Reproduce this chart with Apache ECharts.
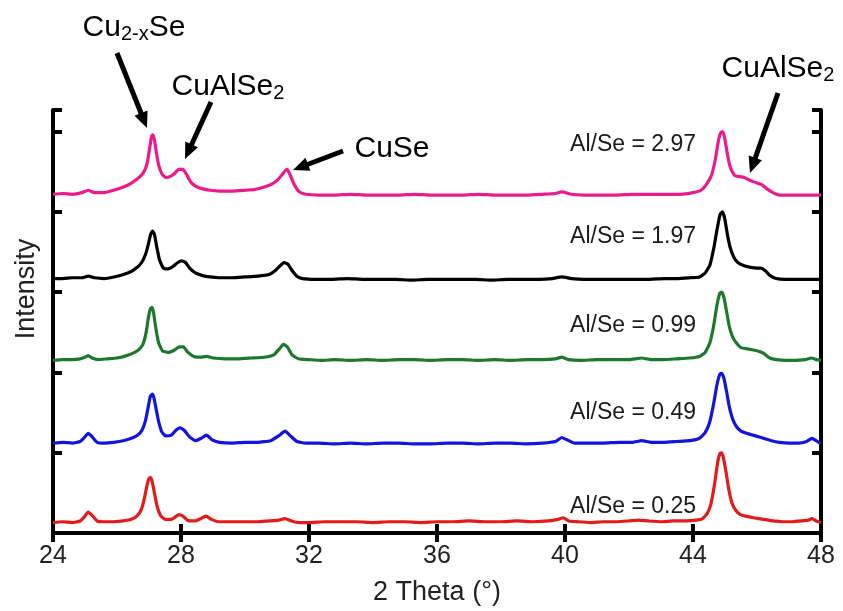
<!DOCTYPE html>
<html><head><meta charset="utf-8">
<script src="https://cdn.jsdelivr.net/npm/echarts@6/dist/echarts.min.js"></script>
<style>html,body{margin:0;padding:0;background:#fff}#c{width:843px;height:611px}</style>
</head><body><div id="c"></div>
<script>
// ---- data ----
const xTickLabels = [24, 28, 32, 36, 40, 44, 48];
const sampleLabels = ['Al/Se = 0.25', 'Al/Se = 0.49', 'Al/Se = 0.99', 'Al/Se = 1.97', 'Al/Se = 2.97'];
const sampleColors = ['#e31b1b', '#1414e0', '#1c7a2c', '#000000', '#ec1a8d'];

const red = [[24.0,0.13],[24.3,0.14],[24.6,0.13],[24.85,0.15],[24.98,0.20],[25.1,0.26],[25.22,0.22],[25.38,0.15],[25.6,0.14],[25.9,0.14],[26.2,0.15],[26.45,0.17],[26.62,0.21],[26.76,0.29],[26.86,0.44],[26.94,0.60],[27.0,0.68],[27.05,0.69],[27.1,0.64],[27.17,0.50],[27.25,0.34],[27.36,0.22],[27.5,0.17],[27.7,0.17],[27.82,0.20],[27.94,0.23],[28.06,0.21],[28.2,0.16],[28.45,0.15],[28.62,0.18],[28.78,0.21],[28.95,0.17],[29.2,0.14],[29.6,0.14],[30.0,0.14],[30.4,0.14],[30.8,0.15],[31.05,0.16],[31.25,0.18],[31.45,0.15],[31.7,0.13],[32.0,0.13],[32.5,0.14],[33.0,0.14],[33.5,0.14],[34.0,0.13],[34.5,0.14],[35.0,0.14],[35.5,0.13],[36.0,0.14],[36.5,0.14],[37.0,0.15],[37.5,0.14],[38.0,0.14],[38.5,0.15],[39.0,0.14],[39.5,0.15],[39.78,0.17],[39.94,0.19],[40.12,0.15],[40.4,0.14],[40.8,0.13],[41.2,0.14],[41.6,0.14],[42.0,0.15],[42.3,0.16],[42.6,0.15],[43.0,0.14],[43.4,0.15],[43.8,0.15],[44.1,0.16],[44.3,0.18],[44.44,0.24],[44.56,0.36],[44.67,0.60],[44.77,0.88],[44.84,0.99],[44.9,1.0],[44.96,0.92],[45.04,0.74],[45.12,0.54],[45.22,0.37],[45.34,0.28],[45.48,0.23],[45.65,0.21],[45.9,0.19],[46.2,0.17],[46.5,0.15],[46.8,0.14],[47.1,0.14],[47.4,0.15],[47.6,0.16],[47.72,0.18],[47.85,0.15],[48.0,0.13]];

const blue = [[24.0,1.12],[24.3,1.13],[24.6,1.12],[24.85,1.14],[24.98,1.19],[25.1,1.24],[25.22,1.20],[25.38,1.13],[25.6,1.12],[25.9,1.13],[26.2,1.15],[26.45,1.18],[26.65,1.22],[26.78,1.28],[26.89,1.40],[26.97,1.56],[27.04,1.70],[27.1,1.73],[27.15,1.69],[27.22,1.55],[27.3,1.39],[27.4,1.26],[27.52,1.21],[27.7,1.22],[27.84,1.28],[27.97,1.31],[28.1,1.28],[28.26,1.20],[28.45,1.15],[28.63,1.18],[28.8,1.22],[28.97,1.16],[29.2,1.13],[29.6,1.12],[30.0,1.13],[30.4,1.13],[30.8,1.15],[31.05,1.21],[31.25,1.27],[31.42,1.21],[31.62,1.14],[31.9,1.12],[32.3,1.12],[32.8,1.11],[33.3,1.12],[33.8,1.11],[34.3,1.12],[34.8,1.12],[35.3,1.11],[35.8,1.11],[36.3,1.12],[36.8,1.12],[37.3,1.11],[37.8,1.12],[38.3,1.12],[38.8,1.11],[39.3,1.12],[39.7,1.14],[39.9,1.19],[40.07,1.16],[40.3,1.12],[40.7,1.12],[41.2,1.12],[41.7,1.13],[42.1,1.13],[42.4,1.15],[42.7,1.13],[43.1,1.13],[43.5,1.14],[43.9,1.15],[44.2,1.18],[44.38,1.25],[44.52,1.38],[44.64,1.60],[44.75,1.85],[44.84,1.98],[44.9,1.99],[44.97,1.92],[45.05,1.76],[45.13,1.58],[45.23,1.43],[45.35,1.33],[45.5,1.27],[45.7,1.24],[45.95,1.21],[46.2,1.18],[46.45,1.15],[46.7,1.13],[47.0,1.12],[47.3,1.12],[47.55,1.14],[47.72,1.18],[47.85,1.15],[48.0,1.11]];

const green = [[24.0,2.15],[24.3,2.16],[24.6,2.16],[24.85,2.17],[25.0,2.19],[25.1,2.21],[25.22,2.18],[25.4,2.16],[25.7,2.17],[26.0,2.18],[26.3,2.21],[26.55,2.25],[26.7,2.29],[26.82,2.36],[26.91,2.50],[26.98,2.68],[27.04,2.79],[27.09,2.81],[27.14,2.75],[27.21,2.56],[27.3,2.37],[27.42,2.27],[27.6,2.25],[27.8,2.28],[27.95,2.32],[28.07,2.32],[28.22,2.25],[28.4,2.20],[28.6,2.19],[28.8,2.20],[29.0,2.18],[29.4,2.17],[29.8,2.17],[30.2,2.18],[30.6,2.19],[30.9,2.22],[31.07,2.29],[31.2,2.35],[31.32,2.32],[31.47,2.22],[31.67,2.17],[32.0,2.16],[32.4,2.15],[32.8,2.16],[33.3,2.15],[33.8,2.16],[34.3,2.15],[34.8,2.16],[35.3,2.16],[35.8,2.15],[36.3,2.16],[36.8,2.16],[37.3,2.15],[37.8,2.16],[38.3,2.15],[38.8,2.16],[39.3,2.16],[39.7,2.17],[39.9,2.19],[40.1,2.16],[40.5,2.15],[41.0,2.16],[41.5,2.16],[42.0,2.16],[42.4,2.18],[42.7,2.16],[43.1,2.16],[43.5,2.17],[43.9,2.18],[44.2,2.20],[44.38,2.25],[44.52,2.36],[44.64,2.57],[44.75,2.84],[44.84,2.99],[44.9,3.0],[44.97,2.93],[45.05,2.76],[45.13,2.58],[45.23,2.45],[45.35,2.37],[45.5,2.31],[45.75,2.29],[46.0,2.27],[46.2,2.24],[46.4,2.18],[46.6,2.16],[46.9,2.15],[47.2,2.15],[47.5,2.16],[47.7,2.18],[47.85,2.16],[48.0,2.15]];

const black = [[24.0,3.17],[24.3,3.17],[24.6,3.18],[24.9,3.18],[25.1,3.20],[25.3,3.18],[25.6,3.17],[25.9,3.19],[26.2,3.22],[26.45,3.26],[26.63,3.31],[26.77,3.37],[26.89,3.47],[26.98,3.60],[27.05,3.72],[27.11,3.76],[27.17,3.72],[27.24,3.57],[27.33,3.40],[27.45,3.30],[27.6,3.29],[27.75,3.32],[27.9,3.37],[28.02,3.39],[28.14,3.37],[28.27,3.30],[28.45,3.24],[28.65,3.21],[28.9,3.19],[29.2,3.18],[29.6,3.18],[30.0,3.19],[30.4,3.20],[30.75,3.22],[30.95,3.27],[31.1,3.33],[31.22,3.37],[31.34,3.35],[31.47,3.27],[31.62,3.20],[31.8,3.17],[32.2,3.16],[32.7,3.16],[33.2,3.17],[33.7,3.16],[34.2,3.16],[34.7,3.16],[35.2,3.15],[35.7,3.16],[36.2,3.16],[36.7,3.16],[37.2,3.16],[37.7,3.15],[38.2,3.16],[38.7,3.16],[39.2,3.16],[39.6,3.17],[39.9,3.19],[40.2,3.17],[40.6,3.16],[41.1,3.16],[41.6,3.16],[42.1,3.16],[42.6,3.16],[43.1,3.17],[43.5,3.17],[43.9,3.18],[44.2,3.19],[44.38,3.24],[44.53,3.34],[44.65,3.55],[44.76,3.80],[44.85,3.97],[44.92,4.0],[44.99,3.92],[45.07,3.73],[45.16,3.56],[45.27,3.44],[45.4,3.37],[45.6,3.33],[45.8,3.31],[46.0,3.30],[46.12,3.30],[46.25,3.27],[46.4,3.21],[46.6,3.17],[46.9,3.16],[47.3,3.16],[47.7,3.16],[48.0,3.16]];

const pink = [[24.0,4.22],[24.3,4.23],[24.6,4.22],[24.9,4.24],[25.1,4.27],[25.3,4.24],[25.6,4.24],[25.9,4.27],[26.2,4.31],[26.45,4.36],[26.63,4.41],[26.77,4.46],[26.88,4.53],[26.96,4.64],[27.03,4.82],[27.08,4.94],[27.12,4.96],[27.17,4.90],[27.23,4.74],[27.31,4.57],[27.41,4.47],[27.52,4.43],[27.65,4.44],[27.8,4.48],[27.93,4.53],[28.06,4.53],[28.17,4.47],[28.31,4.37],[28.46,4.32],[28.65,4.29],[28.9,4.27],[29.2,4.26],[29.6,4.26],[30.0,4.27],[30.3,4.28],[30.6,4.31],[30.85,4.35],[31.02,4.40],[31.15,4.46],[31.25,4.51],[31.32,4.53],[31.41,4.46],[31.54,4.34],[31.7,4.25],[31.9,4.22],[32.3,4.21],[32.8,4.21],[33.3,4.22],[33.8,4.21],[34.3,4.21],[34.8,4.21],[35.3,4.22],[35.8,4.21],[36.3,4.21],[36.8,4.21],[37.3,4.22],[37.8,4.21],[38.3,4.21],[38.8,4.21],[39.3,4.22],[39.7,4.23],[39.9,4.25],[40.2,4.22],[40.6,4.21],[41.1,4.21],[41.6,4.21],[42.1,4.22],[42.6,4.22],[43.1,4.22],[43.6,4.22],[44.0,4.24],[44.25,4.27],[44.43,4.35],[44.58,4.46],[44.7,4.66],[44.8,4.90],[44.87,4.99],[44.93,5.0],[45.0,4.90],[45.08,4.71],[45.17,4.55],[45.29,4.46],[45.45,4.44],[45.6,4.43],[45.8,4.39],[46.0,4.36],[46.15,4.34],[46.3,4.29],[46.5,4.24],[46.7,4.21],[47.0,4.21],[47.4,4.21],[47.7,4.21],[48.0,4.21]];

const traces = [red, blue, green, black, pink];

// ---- chart ----
const chart = echarts.init(document.getElementById('c'), null, {renderer: 'canvas'});
const FONT = 'Liberation Sans, Arial, Helvetica, sans-serif';
const frame = {show: true, lineStyle: {color: '#000', width: 4}};
const inTick = {show: true, inside: true, length: 9, lineStyle: {color: '#000', width: 4}};

function arrow(x1, y1, x2, y2) {
  const dx = x2 - x1, dy = y2 - y1, L = Math.hypot(dx, dy), ux = dx / L, uy = dy / L;
  const hl = 16, hw = 7;
  const bx = x2 - ux * hl, by = y2 - uy * hl;
  return [
    {type: 'line', z: 100, shape: {x1: x1, y1: y1, x2: bx + ux * 2, y2: by + uy * 2}, style: {stroke: '#000', lineWidth: 5}},
    {type: 'polygon', z: 100, shape: {points: [[x2, y2], [bx - uy * hw, by + ux * hw], [bx + uy * hw, by - ux * hw]]}, style: {fill: '#000'}}
  ];
}

const labelY = [507, 413, 326, 237, 145];
const graphics = [];
sampleLabels.forEach((t, i) => {
  graphics.push({type: 'text', z: 100, x: 696, y: labelY[i], style: {text: t, font: '23px ' + FONT, fill: '#1a1a1a', textAlign: 'right', textVerticalAlign: 'middle'}});
});
const richAnno = {
  a: {fontSize: 30, fontFamily: FONT, color: '#3a3a3a'},
  s: {fontSize: 20, fontFamily: FONT, color: '#3a3a3a', padding: [12, 0, 0, 0]}
};
graphics.push({type: 'text', z: 100, x: 134, y: 28, style: {text: '{a|Cu}{s|2-x}{a|Se}', rich: richAnno, textAlign: 'center', textVerticalAlign: 'middle'}});
graphics.push({type: 'text', z: 100, x: 228, y: 87, style: {text: '{a|CuAlSe}{s|2}', rich: richAnno, textAlign: 'center', textVerticalAlign: 'middle'}});
graphics.push({type: 'text', z: 100, x: 392, y: 149, style: {text: '{a|CuSe}', rich: richAnno, textAlign: 'center', textVerticalAlign: 'middle'}});
graphics.push({type: 'text', z: 100, x: 778, y: 69, style: {text: '{a|CuAlSe}{s|2}', rich: richAnno, textAlign: 'center', textVerticalAlign: 'middle'}});
graphics.push({type: 'text', z: 100, x: 27, y: 289, rotation: Math.PI / 2, style: {text: 'Intensity', font: '27px ' + FONT, fill: '#222', textAlign: 'center', textVerticalAlign: 'middle'}});
graphics.push(...arrow(117, 53, 147, 128));
graphics.push(...arrow(211, 102, 185, 159));
graphics.push(...arrow(343, 151, 293, 170));
graphics.push(...arrow(778, 93, 750, 173));

chart.setOption({
  animation: false,
  backgroundColor: '#fff',
  grid: {left: 53, right: 22, top: 110, bottom: 72, containLabel: false},
  xAxis: [
    {type: 'value', position: 'bottom', min: xTickLabels[0], max: xTickLabels[xTickLabels.length - 1], interval: 4,
     axisLine: frame, axisTick: inTick, splitLine: {show: false},
     axisLabel: {fontSize: 25, fontFamily: FONT, color: '#222', margin: 11},
     name: '2 Theta (°)', nameLocation: 'middle', nameGap: 46,
     nameTextStyle: {fontSize: 27, fontFamily: FONT, color: '#222'}},
    {type: 'value', position: 'top', min: xTickLabels[0], max: xTickLabels[xTickLabels.length - 1], interval: 4,
     axisLine: frame, axisTick: inTick, splitLine: {show: false}, axisLabel: {show: false}}
  ],
  yAxis: [
    {type: 'value', position: 'left', min: 0, max: 5.27, interval: 1,
     axisLine: frame, axisTick: inTick, splitLine: {show: false}, axisLabel: {show: false}},
    {type: 'value', position: 'right', min: 0, max: 5.27, interval: 1,
     axisLine: frame, axisTick: inTick, splitLine: {show: false}, axisLabel: {show: false}}
  ],
  series: traces.map((d, i) => ({
    name: sampleLabels[i], type: 'line', xAxisIndex: 0, yAxisIndex: 0,
    data: d, showSymbol: false, symbol: 'none', smooth: 0.15,
    lineStyle: {color: sampleColors[i], width: 3.2}, z: 2
  })),
  graphic: graphics
});
</script>
</body></html>
